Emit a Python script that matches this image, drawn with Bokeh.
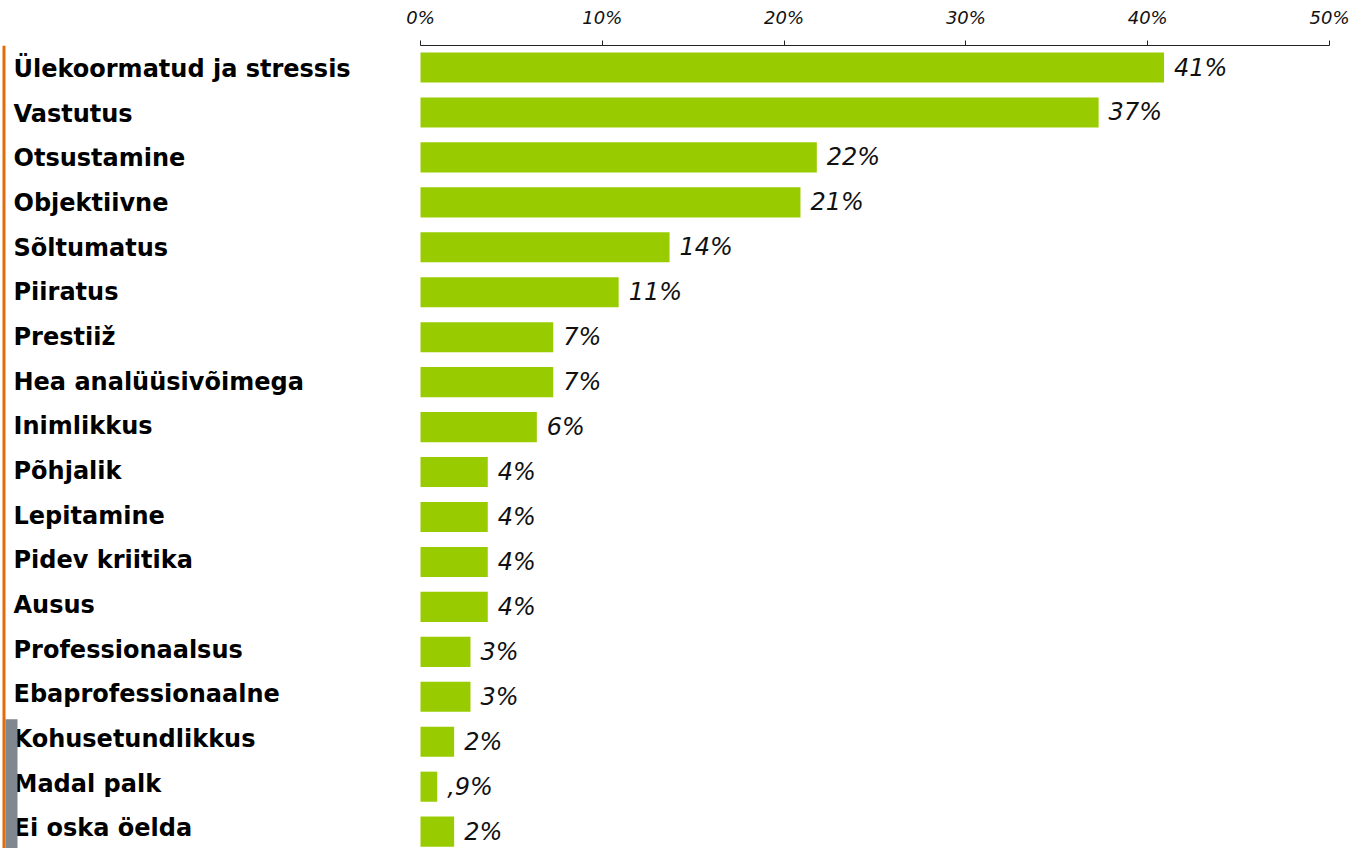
from bokeh.plotting import figure
from bokeh.models import Range1d, FixedTicker, PrintfTickFormatter, BoxAnnotation, ColumnDataSource
from bokeh.embed import file_html
from bokeh.resources import INLINE
from bokeh.core.properties import value

# ---------------- data ----------------
categories = [
    "Ülekoormatud ja stressis", "Vastutus", "Otsustamine", "Objektiivne",
    "Sõltumatus", "Piiratus", "Prestiiž", "Hea analüüsivõimega", "Inimlikkus",
    "Põhjalik", "Lepitamine", "Pidev kriitika", "Ausus", "Professionaalsus",
    "Ebaprofessionaalne", "Kohusetundlikkus", "Madal palk", "Ei oska öelda",
]
values = [40.9, 37.3, 21.8, 20.9, 13.7, 10.9, 7.3, 7.3, 6.4,
          3.7, 3.7, 3.7, 3.7, 2.75, 2.75, 1.85, 0.92, 1.85]
value_labels = ["41%", "37%", "22%", "21%", "14%", "11%", "7%", "7%", "6%",
                "4%", "4%", "4%", "4%", "3%", "3%", "2%", ",9%", "2%"]
x_ticks = [0, 10, 20, 30, 40, 50]

# ---------------- layout ----------------
W, H = 1352, 848
TOP = 45
PX_X = 18.18          # pixels per percent
ZERO_X = 420          # canvas x of 0 %
PX_Y = 44.95          # pixels per bar slot
FIRST_Y = 22          # first bar centre below frame top
X_START = -ZERO_X / PX_X
X_END = (W - ZERO_X) / PX_X
Y_TOP = -FIRST_Y / PX_Y
Y_BOTTOM = (H - TOP - FIRST_Y) / PX_Y
label_x = X_START + 13 / PX_X
label_pitch = 0.994

idx = list(range(len(categories)))
src = ColumnDataSource(dict(
    y=idx,
    v=values,
    vl=value_labels,
    cat=categories,
    ly=[0.03 + i * label_pitch for i in idx],
    lx=[label_x] * len(idx),
))

p = figure(width=W, height=H, output_backend="svg", toolbar_location=None,
           x_range=Range1d(X_START, X_END), y_range=Range1d(Y_BOTTOM, Y_TOP),
           x_axis_location="above", y_axis_location=None,
           min_border_left=0, min_border_right=0, min_border_bottom=0,
           min_border_top=TOP)
p.outline_line_color = None
p.xgrid.visible = False
p.ygrid.visible = False
p.background_fill_color = "white"
p.border_fill_color = "white"

ax = p.xaxis[0]
ax.ticker = FixedTicker(ticks=x_ticks)
ax.formatter = PrintfTickFormatter(format="%d%%")
ax.bounds = (0, 50)
ax.major_tick_in = 0
ax.major_tick_out = 5
ax.minor_tick_line_color = None
ax.axis_line_color = "#222222"
ax.major_tick_line_color = "#222222"
ax.major_label_text_font = "DejaVu Sans"
ax.major_label_text_font_style = "italic"
ax.major_label_text_font_size = "18px"
ax.major_label_text_color = "#111111"
ax.major_label_standoff = 13

# decorations
p.add_layout(BoxAnnotation(left=2, right=5, left_units="screen", right_units="screen",
                           fill_color="#E36C0A", fill_alpha=1, line_color=None))
p.add_layout(BoxAnnotation(left=5, right=17, left_units="screen", right_units="screen",
                           top=14.5, fill_color="#7F878F", fill_alpha=1, line_color=None))

p.hbar(y="y", left=0, right="v", height=0.67, source=src,
       fill_color="#99CC00", line_color=None)

p.text(x="v", y="y", text="vl", source=src, x_offset=10,
       text_font=value("DejaVu Sans"), text_font_style="italic",
       text_font_size="24px", text_baseline="middle", text_align="left",
       text_color="#111111")

p.text(x="lx", y="ly", text="cat", source=src,
       text_font=value("DejaVu Sans"), text_font_style="bold",
       text_font_size="24px", text_baseline="middle", text_align="left",
       text_color="#000000")

open("out.html", "w").write(file_html(p, INLINE))
